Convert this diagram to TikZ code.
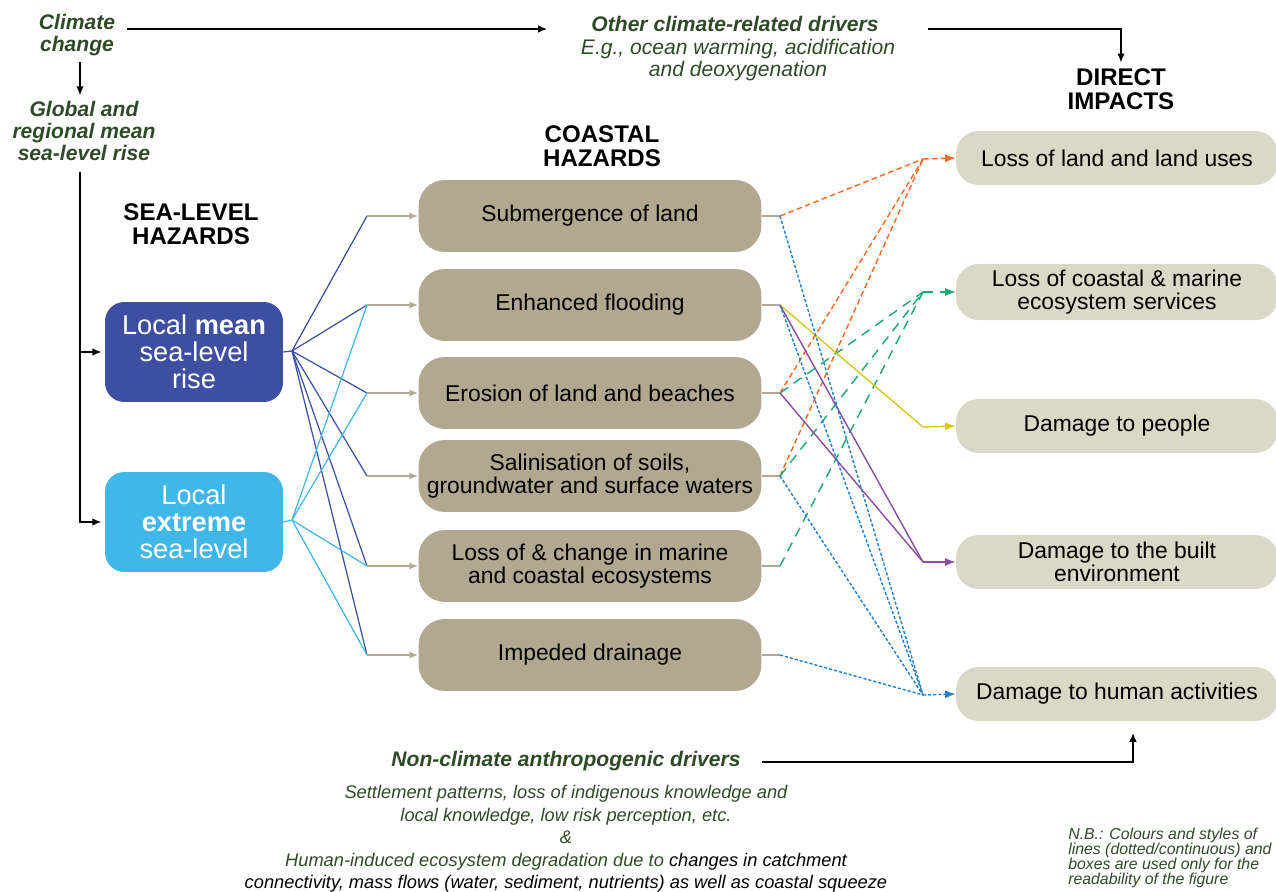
\documentclass[tikz,border=0pt]{standalone}
\usepackage{fontspec}
\setmainfont{Liberation Sans}
\usetikzlibrary{positioning,arrows.meta}
\definecolor{drvgreen}{HTML}{2E4A27}
\definecolor{meanblue}{HTML}{3E4FA1}
\definecolor{extblue}{HTML}{41B6E8}
\definecolor{hazfill}{HTML}{B2A890}
\definecolor{impfill}{HTML}{DAD8C6}
\definecolor{feedgray}{HTML}{B3A994}
\definecolor{landorange}{HTML}{F26A22}
\definecolor{servgreen}{HTML}{1BA873}
\definecolor{peopleyellow}{HTML}{D3C925}
\definecolor{builtpurple}{HTML}{8B4DA3}
\definecolor{actblue}{HTML}{2380CC}
\newcommand{\fsz}[2]{\fontsize{#1}{#2}\selectfont}

\begin{document}
\begin{tikzpicture}[x=0.02cm,y=-0.02cm,
  drv/.style={text=drvgreen,font=\fsz{12}{12.5}\bfseries\itshape,align=center},
  drvsub/.style={text=drvgreen,font=\fsz{12}{12.5}\itshape,align=center},
  note/.style={text=drvgreen,font=\fsz{10.4}{12.75}\itshape,align=center},
  nb/.style={text=drvgreen,font=\fsz{9}{8.5}\itshape,align=left,inner sep=0pt},
  head/.style={font=\fsz{13.7}{13.6}\bfseries,align=center},
  slbox/.style={rounded corners=11pt,minimum width=3.56cm,minimum height=2cm,
    text=white,font=\fsz{15.5}{15.3},align=center},
  hazbox/.style={fill=hazfill,rounded corners=15pt,minimum width=6.86cm,
    minimum height=1.44cm,font=\fsz{13}{13.2},align=center},
  impbox/.style={fill=impfill,rounded corners=13pt,minimum width=6.44cm,
    minimum height=1.08cm,font=\fsz{13}{13.2},align=center},
  arr/.style={-{Latex[length=5pt,width=4.2pt]},line width=0.6pt},
  meanln/.style={meanblue,line width=0.7pt},
  extln/.style={extblue,line width=0.7pt},
  feed/.style={feedgray,line width=0.9pt,-{Latex[length=5pt,width=4pt]}},
  stub/.style={feedgray,line width=0.9pt},
  endtip/.style={-{Latex[length=6pt,width=4.6pt]}},
  landln/.style={landorange,line width=0.8pt,dash pattern=on 3.2pt off 1.9pt},
  servln/.style={servgreen,line width=0.8pt,dash pattern=on 5.5pt off 4pt},
  peopleln/.style={peopleyellow,line width=0.8pt},
  builtln/.style={builtpurple,line width=0.8pt},
  actln/.style={actblue,line width=0.8pt,dash pattern=on 1.8pt off 1.1pt}]
\useasboundingbox (0,0) rectangle (1276,892);

% drivers and headings
\node[drv] (cc) at (77,35) {Climate\\change};
\node[drv] (gmsl) at (84,131) {Global and\\regional mean\\sea-level rise};
\node[drv] (ocd) at (735,24) {Other climate-related drivers};
\node[drvsub] (ocdsub) at (738,60) {E.g., ocean warming, acidification\\and deoxygenation};
\node[head] (di) at (1121,89) {DIRECT\\IMPACTS};
\node[head] (chz) at (602,146) {COASTAL\\HAZARDS};
\node[head] (slhz) at (191,224) {SEA-LEVEL\\HAZARDS};

% sea-level hazards
\node[slbox,fill=meanblue] (lmsl) at (194,352) {Local \textbf{mean}\\sea-level\\rise};
\node[slbox,fill=extblue] (lesl) at (194,522) {Local\\\textbf{extreme}\\sea-level};

% coastal hazards
\node[hazbox] (sub) at (590,216) {Submergence of land};
\node[hazbox] (flo) at (590,305) {Enhanced flooding};
\node[hazbox] (ero) at (590,393) {Erosion of land and beaches};
\node[hazbox] (sal) at (590,476) {Salinisation of soils,\\groundwater and surface waters};
\node[hazbox] (eco) at (590,566) {Loss of \& change in marine\\and coastal ecosystems};
\node[hazbox] (dra) at (590,655) {Impeded drainage};

% direct impacts
\node[impbox] (land) at (1117,158) {Loss of land and land uses};
\node[impbox] (serv) at (1117,292) {Loss of coastal \& marine\\ecosystem services};
\node[impbox] (people) at (1117,426) {Damage to people};
\node[impbox] (built) at (1117,562) {Damage to the built\\environment};
\node[impbox] (act) at (1117,694) {Damage to human activities};

% non-climate drivers
\node[drv] (ncd) at (566,761) {Non-climate anthropogenic drivers};
\node[note] (ncdsub) at (566,839) {Settlement patterns, loss of indigenous knowledge and\\
  local knowledge, low risk perception, etc.\\
  \&\\
  Human-induced ecosystem degradation due to \textcolor{black}{changes in catchment}\\
  \textcolor{black}{connectivity, mass flows (water, sediment, nutrients) as well as coastal squeeze}};
\node[nb,anchor=north west] (nbnote) at (1068,828) {N.B.: Colours and styles of\\
  lines (dotted/continuous) and\\boxes are used only for the\\readability of the figure};

% driver arrows
\coordinate (ccout) at (127,29);
\coordinate (ocdin) at (547,29);
\coordinate (ocdout) at (928,29);
\coordinate (ccdown) at (80,62);
\coordinate (spine) at (80,172);
\coordinate (ncdout) at (762,762);
\coordinate (actin) at (1133,733);
\draw[arr] (ccout) -- (ocdin);
\draw[arr] (ocdout) -| (di.north);
\draw[arr] (ccdown) -- (ccdown |- gmsl.north);
\draw[arr,shorten >=2pt] (spine) |- (lesl.west);
\draw[arr,shorten >=2pt] (spine |- lmsl.west) -- (lmsl.west);
\draw[arr] (ncdout) -| (actin);

% junctions
\foreach \n/\y in {sub/216,flo/305,ero/393,sal/476,eco/566,dra/655} {
  \coordinate (j\n) at (367,\y);
  \coordinate (o\n) at (780,\y);
}
\coordinate (mo) at (292,351);
\coordinate (eo) at (292,520);
\foreach \n/\y in {land/159,serv/292,people/427,built/562,act/695}
  \coordinate (i\n) at (923,\y);

% sea-level to coastal
\draw[meanln] (lmsl.east) -- (mo);
\draw[extln] (lesl.east) -- (eo);
\foreach \n in {sub,flo,ero,sal,eco,dra} \draw[meanln] (mo) -- (j\n);
\foreach \n in {flo,ero,eco,dra} \draw[extln] (eo) -- (j\n);
\foreach \n in {sub,flo,ero,sal,eco,dra} {
  \draw[feed] (j\n) -- (\n.west);
  \draw[stub] (\n.east) -- (o\n);
}

% coastal to impacts
\foreach \n in {sub,ero,sal} \draw[landln] (o\n) -- (iland);
\foreach \n in {ero,sal,eco} \draw[servln] (o\n) -- (iserv);
\draw[peopleln] (oflo) -- (ipeople);
\foreach \n in {flo,ero} \draw[builtln] (o\n) -- (ibuilt);
\foreach \n in {sub,flo,sal,dra} \draw[actln] (o\n) -- (iact);
\draw[landln,endtip] (iland) -- (land.west);
\draw[servln,endtip] (iserv) -- (serv.west);
\draw[peopleln,endtip] (ipeople) -- (people.west);
\draw[builtln,endtip] (ibuilt) -- (built.west);
\draw[actln,endtip] (iact) -- (act.west);
\end{tikzpicture}
\end{document}
